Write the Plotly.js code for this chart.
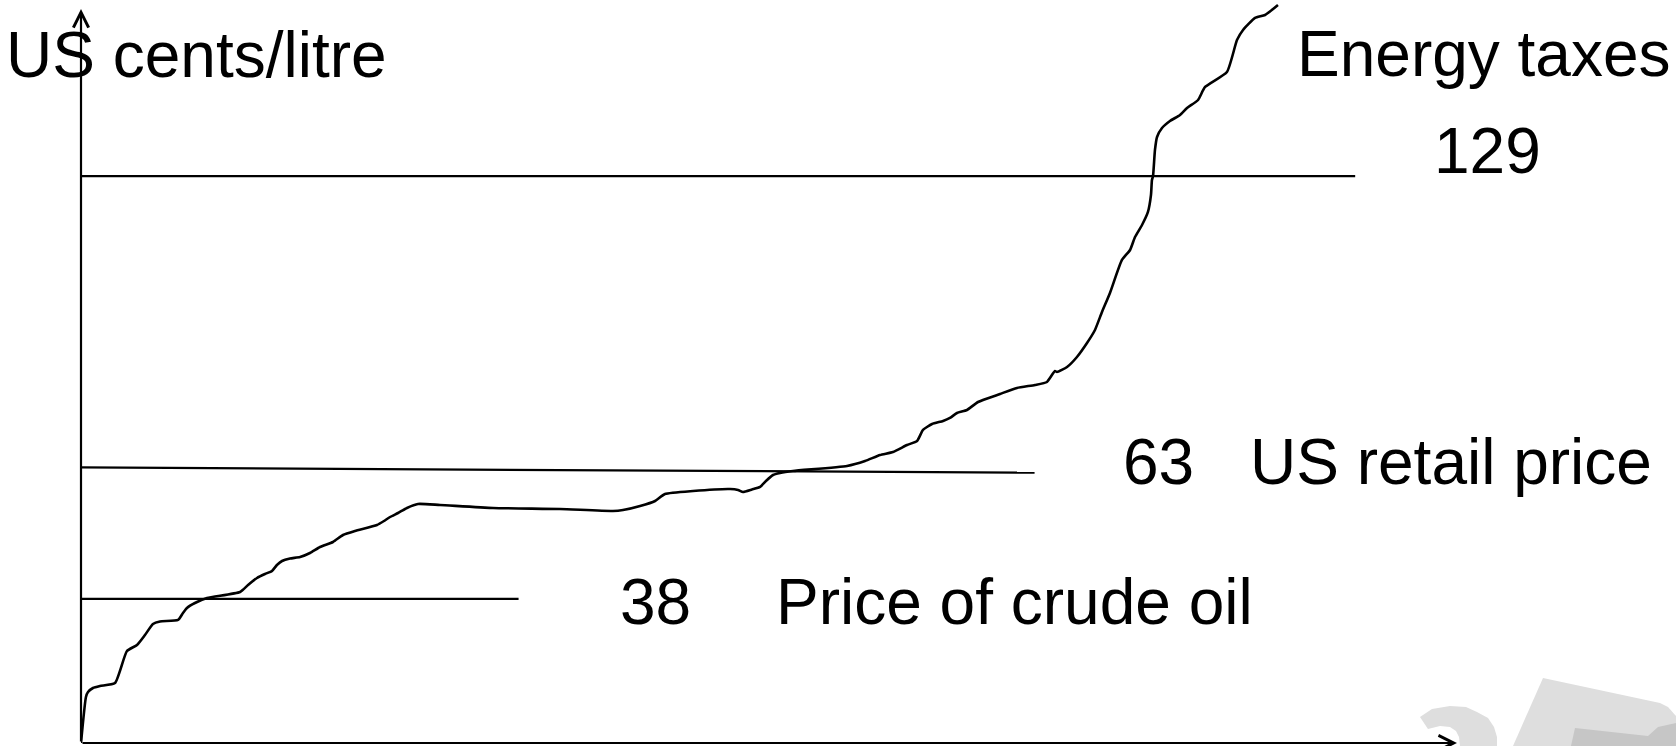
<!DOCTYPE html>
<html>
<head>
<meta charset="utf-8">
<script src="https://cdn.plot.ly/plotly-3.0.1.min.js"></script>
<style>
  html, body { margin: 0; padding: 0; background: #ffffff; }
  #chart { width: 1676px; height: 746px; }
</style>
</head>
<body>
<div id="chart"></div>
<script>
// ---- Data (x: share of countries, 0-100; y: US cents/litre, schematic) ----
const curveX = [0, 0.36, 0.51, 0.87, 1.38, 2.47, 3.34, 4.07, 4.65, 5.23, 5.74, 7.05, 7.41, 7.70, 8.28, 9.16,
  11.56, 12.14, 12.79, 13.37, 13.88, 14.24, 14.61, 15.19, 15.92, 16.64, 17.37, 18.31, 19.04, 19.91, 21.51,
  22.02, 22.46, 23.04, 23.69, 24.49, 26.09, 29.94, 34.81, 38.66, 39.39, 40.63, 41.72, 42.44, 44.48, 47.17,
  47.75, 48.11, 48.76, 49.35, 49.78, 50.29, 50.80, 51.74, 55.67, 56.98, 58.07, 59.01, 60.03, 60.76, 61.19,
  61.85, 62.65, 63.15, 63.66, 64.39, 65.19, 66.79, 68.02, 69.33, 70.20, 70.78, 70.93, 71.66, 72.38, 73.11,
  73.69, 74.20, 74.78, 75.65, 76.24, 76.60, 77.11, 77.54, 77.76, 77.83, 77.91, 78.05, 78.20, 78.56, 79.14,
  79.87, 80.38, 81.18, 81.69, 83.28, 84.01, 84.45, 85.32, 86.05, 86.99];
const curveY = [0, 10.47, 11.60, 12.51, 12.97, 13.65, 20.93, 22.30, 24.57, 27.08, 27.65, 27.99, 29.58, 30.72,
  31.85, 32.99, 34.36, 35.95, 37.54, 38.45, 39.14, 40.50, 41.41, 41.98, 42.32, 43.23, 44.60, 45.73, 47.33,
  48.24, 49.60, 50.51, 51.42, 52.33, 53.47, 54.38, 54.15, 53.47, 53.24, 52.79, 53.01, 53.92, 55.06, 56.66,
  57.34, 57.79, 57.57, 57.11, 57.68, 58.25, 59.61, 60.98, 61.43, 61.89, 63.03, 64.16, 65.53, 66.21, 67.80,
  68.71, 71.22, 72.58, 73.27, 73.95, 75.09, 75.77, 77.59, 79.41, 80.77, 81.46, 82.14, 84.64, 84.41, 85.55,
  87.83, 91.01, 93.97, 98.07, 102.39, 109.90, 112.17, 115.13, 117.86, 120.82, 124.69, 128.10, 129.01,
  134.93, 137.88, 139.93, 141.52, 142.88, 144.48, 146.30, 149.26, 152.67, 159.95, 162.23, 164.96, 165.64,
  167.92];

const levelNames  = ['Energy taxes', 'US retail price', 'Price of crude oil'];
const levelLabels = ['129', '63', '38'];
const levelStartY = [129, 62.7, 32.8];
const levelEndY   = [129, 61.5, 32.8];
const levelEndX   = [92.6, 69.3, 31.8];

const yAxisTitle = 'US cents/litre';
const yAxisTop = 167.0;   // tip of the vertical arrow
const xAxisEnd = 100;     // tip of the horizontal arrow

// ---- Traces ----
const traces = [];
for (let i = 0; i < levelNames.length; i++) {
  traces.push({
    type: 'scatter', mode: 'lines', name: levelNames[i],
    x: [0, levelEndX[i]], y: [levelStartY[i], levelEndY[i]],
    line: {color: '#000000', width: 2.2}, hoverinfo: 'skip'
  });
}
traces.push({
  type: 'scatter', mode: 'lines', name: 'curve',
  x: curveX, y: curveY,
  line: {color: '#000000', width: 2.6, shape: 'spline', smoothing: 0.5},
  hoverinfo: 'skip'
});

const FONT = {family: '"Liberation Sans", Arial, sans-serif', size: 64, color: '#000000'};

function txt(text, x, y) {
  return {text: text, xref: 'paper', yref: 'paper', x: x, y: y, xanchor: 'left', yanchor: 'middle',
          showarrow: false, font: FONT};
}

const annotations = [
  txt(yAxisTitle, -0.0560, 0.926),
  txt(levelNames[0], 0.8823, 0.9267),
  txt(levelLabels[0], 0.9818, 0.7968),
  txt(levelLabels[1], 0.7558, 0.3782),
  txt(levelNames[1], 0.8481, 0.3782),
  txt(levelLabels[2], 0.3903, 0.1898),
  txt(levelNames[2], 0.5036, 0.1898),
  // axes drawn as arrows
  {x: 0, y: yAxisTop, ax: 0, ay: 0, xref: 'x', yref: 'y', axref: 'x', ayref: 'y', text: '',
   showarrow: true, arrowhead: 5, arrowsize: 1.36, arrowwidth: 2.2, arrowcolor: '#000000', standoff: 0},
  {x: xAxisEnd, y: 0, ax: 0, ay: 0, xref: 'x', yref: 'y', axref: 'x', ayref: 'y', text: '',
   showarrow: true, arrowhead: 5, arrowsize: 1.36, arrowwidth: 2.2, arrowcolor: '#000000', standoff: 0}
];

// faint watermark fragments in the lower right corner
const shapes = [
  {type: 'path', xref: 'paper', yref: 'paper', layer: 'below', line: {width: 0}, fillcolor: '#dedede',
   path: 'M1.0625,0.08748 L1.14753,0.05384 L1.15334,0.04845 L1.15916,0.03634 L1.15916,-0.00404 L1.0407,-0.00404 Z'},
  {type: 'path', xref: 'paper', yref: 'paper', layer: 'below', line: {width: 0}, fillcolor: '#c6c6c6',
   path: 'M1.08576,0.02019 L1.13881,0.00942 L1.14608,0.02153 L1.15916,0.02692 L1.15916,-0.00404 L1.08285,-0.00404 Z'},
  {type: 'path', xref: 'paper', yref: 'paper', layer: 'below', line: {width: 0}, fillcolor: '#dedede',
   path: 'M0.97311,0.03499 L0.98183,0.04576 L0.99491,0.0498 L1.00654,0.04845 L1.01453,0.04172 L1.02253,0.03365 ' +
         'L1.02689,0.02153 L1.02907,0.00808 L1.02907,-0.00404 L1.00218,-0.00404 L1.00145,0.00808 L0.99927,0.01615 ' +
         'L0.99491,0.02153 L0.98765,0.02288 L0.97892,0.01884 Z'}
];

const layout = {
  width: 1676, height: 746,
  margin: {l: 81, r: 219, t: 0, b: 3, pad: 0},
  paper_bgcolor: '#ffffff', plot_bgcolor: '#ffffff',
  showlegend: false,
  xaxis: {range: [0, 100], visible: false, fixedrange: true},
  yaxis: {range: [0, 169.05], visible: false, fixedrange: true},
  annotations: annotations,
  shapes: shapes,
  font: FONT
};

Plotly.newPlot('chart', traces, layout, {staticPlot: true, displayModeBar: false});
</script>
</body>
</html>
